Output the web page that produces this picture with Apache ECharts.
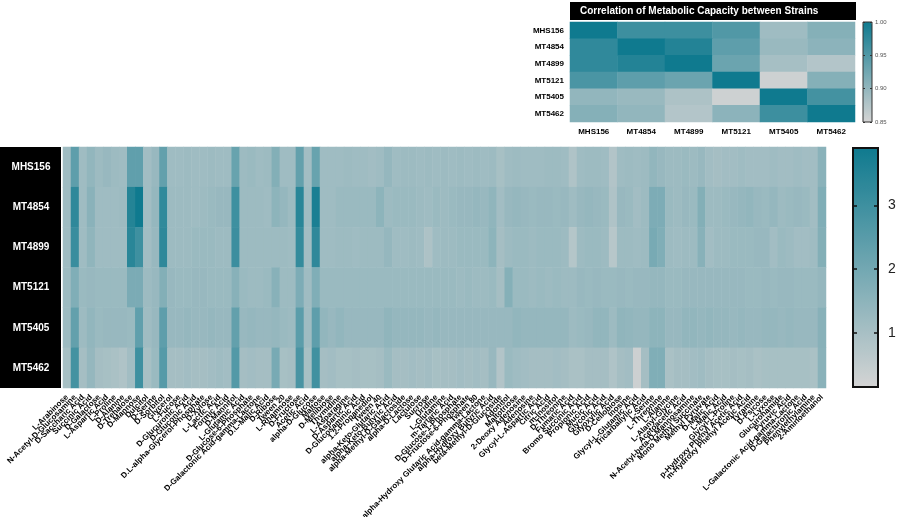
<!DOCTYPE html>
<html>
<head>
<meta charset="utf-8">
<script src="https://cdn.jsdelivr.net/npm/echarts@6/dist/echarts.min.js"></script>
<style>
  html, body { margin: 0; padding: 0; background: #fff; }
  #main { width: 900px; height: 517px; }
</style>
</head>
<body>
<div id="main"></div>
<script>
// ------------------------- 数据 -------------------------
const strains = ['MHS156', 'MT4854', 'MT4899', 'MT5121', 'MT5405', 'MT5462'];

const substrates = [
  'L-Arabinose', 'N-Acetyl-D-Glucosamine', 'D-Saccharic Acid', 'Succinic Acid', 'D-Galactose',
  'L-Aspartic Acid', 'L-Proline', 'D-Alanine', 'D-Trehalose', 'D-Mannose', 'Dulcitol', 'D-Serine',
  'D-Sorbitol', 'Glycerol', 'L-Fucose', 'D-Glucuronic Acid', 'D-Gluconic Acid',
  'D.L-alpha-Glycerol-Phosphate', 'D-Xylose', 'L-Lactic Acid', 'Formic Acid', 'D-Mannitol',
  'L-Glutamic Acid', 'D-Glucose-6-Phosphate', 'D-Galactonic Acid-gamma-Lactone', 'D.L-Malic Acid',
  'D-Ribose', 'Tween 20', 'L-Rhamnose', 'D-Fructose', 'Acetic Acid', 'alpha-D-Glucose', 'Maltose',
  'D-Melibiose', 'Thymidine', 'L-Asparagine', 'D-Aspartic Acid', 'D-Glucosaminic Acid',
  '1.2-Propanediol', 'Tween 40', 'alpha-Keto-Glutaric Acid', 'alpha-Keto-Butyric Acid',
  'alpha-Methyl-D-Galactoside', 'alpha-D-Lactose', 'Lactulose', 'Sucrose', 'Uridine', 'L-Glutamine',
  'm-Tartaric Acid', 'D-Glucose-1-Phosphate', 'D-Fructose-6-Phosphate', 'Tween 80',
  'alpha-Hydroxy Glutaric Acid-gamma-Lactone', 'alpha-Hydroxy Butyric Acid', 'beta-Methyl-D-Glucoside',
  'Adonitol', 'Maltotriose', '2-Deoxy Adenosine', 'Adenosine', 'Glycyl-L-Aspartic Acid', 'Citric Acid',
  'm-Inositol', 'D-Threonine', 'Fumaric Acid', 'Bromo Succinic Acid', 'Propionic Acid', 'Mucic Acid',
  'Glycolic Acid', 'Glyoxylic Acid', 'D-Cellobiose', 'Inosine', 'Glycyl-L-Glutamic Acid',
  'Tricarballylic Acid', 'L-Serine', 'L-Threonine', 'L-Alanine', 'L-Alanyl-Glycine', 'Acetoacetic Acid',
  'N-Acetyl-beta-D-Mannosamine', 'Mono Methyl Succinate', 'Methyl Pyruvate', 'D-Malic Acid',
  'L-Malic Acid', 'Glycyl-L-Proline', 'p-Hydroxy Phenyl Acetic Acid', 'm-Hydroxy Phenyl Acetic Acid',
  'Tyramine', 'D-Psicose', 'L-Lyxose', 'Glucuronamide', 'Pyruvic Acid',
  'L-Galactonic Acid-gamma-Lactone', 'D-Galacturonic Acid', 'Phenylethylamine', '2-Aminoethanol'
];

// 每个菌株对各底物的代谢能力（按底物顺序）
const mhs156 = [
  1.15, 2.4, 1.15, 1.4, 1.2, 1.3, 1.2, 1.15, 2.35, 2.35, 1.1, 1.3, 2.3, 1.15, 1.15, 1.2, 1.15, 1.15, 1.2, 1.15,
  1.15, 2.2, 1.2, 1.25, 1.15, 1.2, 1.7, 1.15, 1.15, 2.3, 1.1, 2.2, 1.15, 1.15, 1.15, 1.2, 1.15, 1.15, 1.1, 1.15,
  1.35, 1.15, 1.2, 1.2, 1.15, 1.2, 1.15, 1.2, 1.15, 1.2, 1.15, 1.2, 1.15, 1.2, 1.0, 1.15, 1.2, 1.15, 1.15, 1.15,
  1.2, 1.2, 1.15, 0.85, 1.15, 1.2, 1.2, 1.15, 0.8, 1.15, 1.2, 1.15, 1.2, 1.4, 1.3, 1.2, 1.2, 1.25, 1.2, 1.3,
  1.1, 1.05, 1.1, 1.1, 1.15, 1.1, 1.1, 1.1, 1.15, 1.1, 1.1, 1.15, 1.1, 1.1, 1.55
];
const mt4854 = [
  1.15, 3.3, 1.15, 1.55, 1.15, 1.15, 1.15, 1.2, 3.5, 3.9, 1.1, 1.35, 3.25, 1.2, 1.2, 1.2, 1.15, 1.2, 1.25, 1.3,
  1.3, 3.0, 1.2, 1.2, 1.2, 1.15, 1.5, 1.35, 1.2, 3.4, 1.15, 3.7, 1.15, 1.15, 1.25, 1.25, 1.25, 1.25, 1.25, 1.5,
  1.2, 1.25, 1.25, 1.25, 1.2, 1.15, 1.25, 1.2, 1.25, 1.3, 1.3, 1.35, 1.3, 1.45, 1.1, 1.3, 1.35, 1.3, 1.25, 1.3,
  1.3, 1.25, 1.3, 1.15, 1.3, 1.35, 1.3, 1.25, 0.85, 1.3, 1.25, 1.1, 1.2, 1.8, 1.8, 1.25, 1.2, 1.3, 1.25, 1.7,
  1.2, 1.2, 1.25, 1.3, 1.35, 1.4, 1.3, 1.25, 1.35, 1.2, 1.25, 1.3, 1.25, 1.1, 1.75
];
const mt4899 = [
  1.15, 3.1, 1.15, 1.45, 1.15, 1.15, 1.15, 1.15, 3.4, 3.0, 1.1, 1.3, 3.3, 1.2, 1.2, 1.2, 1.25, 1.25, 1.25, 1.2,
  1.2, 3.05, 1.2, 1.2, 1.2, 1.2, 1.2, 1.2, 1.15, 3.2, 1.1, 3.3, 1.15, 1.15, 1.2, 1.2, 1.15, 1.2, 1.2, 1.2,
  1.35, 1.15, 1.15, 1.2, 1.15, 0.9, 1.15, 1.2, 1.2, 1.25, 1.25, 1.25, 1.25, 1.5, 1.05, 1.2, 1.25, 1.25, 1.2, 1.25,
  1.25, 1.25, 1.2, 0.75, 1.2, 1.25, 1.25, 1.2, 0.7, 1.2, 1.2, 1.15, 1.2, 1.9, 1.75, 1.2, 1.15, 1.2, 1.2, 1.6,
  1.1, 1.2, 1.2, 1.25, 1.25, 1.25, 1.3, 1.3, 1.1, 1.25, 1.2, 1.1, 1.1, 1.15, 1.7
];
const mt5121 = [
  1.2, 1.75, 1.25, 1.3, 1.25, 1.25, 1.25, 1.25, 1.85, 1.85, 1.2, 1.3, 1.7, 1.3, 1.25, 1.25, 1.3, 1.3, 1.25, 1.25,
  1.25, 1.6, 1.25, 1.2, 1.2, 1.25, 1.6, 1.2, 1.2, 1.8, 1.15, 1.75, 1.25, 1.25, 1.25, 1.25, 1.25, 1.25, 1.25, 1.25,
  1.25, 1.25, 1.25, 1.25, 1.25, 1.25, 1.25, 1.25, 1.25, 1.2, 1.25, 1.2, 1.2, 1.25, 1.05, 1.65, 1.25, 1.25, 1.2, 1.25,
  1.2, 1.25, 1.2, 1.2, 1.3, 1.25, 1.3, 1.25, 1.25, 1.3, 1.25, 1.3, 1.3, 1.35, 1.35, 1.25, 1.25, 1.3, 1.3, 1.3,
  1.3, 1.3, 1.3, 1.3, 1.3, 1.25, 1.25, 1.3, 1.25, 1.3, 1.3, 1.25, 1.25, 1.25, 1.35
];
const mt5405 = [
  1.2, 2.3, 1.2, 1.4, 1.25, 1.3, 1.3, 1.3, 1.25, 2.35, 1.15, 1.3, 2.4, 1.3, 1.3, 1.35, 1.3, 1.3, 1.35, 1.3,
  1.3, 2.3, 1.3, 1.35, 1.3, 1.3, 1.35, 1.25, 1.2, 2.45, 1.15, 2.4, 1.4, 1.3, 1.4, 1.3, 1.3, 1.3, 1.3, 1.3,
  1.45, 1.35, 1.35, 1.35, 1.35, 1.3, 1.35, 1.3, 1.3, 1.3, 1.3, 1.3, 1.3, 1.3, 1.3, 1.3, 1.4, 1.35, 1.35, 1.35,
  1.35, 1.35, 1.35, 1.2, 1.25, 1.3, 1.4, 1.4, 1.2, 1.45, 1.4, 1.35, 1.35, 1.5, 1.5, 1.3, 1.3, 1.4, 1.4, 1.35,
  1.4, 1.35, 1.35, 1.3, 1.35, 1.3, 1.3, 1.35, 1.35, 1.3, 1.35, 1.3, 1.3, 1.3, 1.6
];
const mt5462 = [
  1.0, 2.9, 1.05, 1.35, 1.05, 1.0, 0.95, 0.85, 1.1, 3.0, 1.0, 1.25, 2.55, 1.05, 1.05, 1.1, 1.05, 1.05, 1.1, 1.15,
  1.1, 2.6, 1.05, 1.1, 1.05, 1.05, 1.9, 1.0, 1.05, 2.8, 1.0, 2.95, 1.05, 1.1, 1.0, 1.0, 1.05, 1.0, 1.0, 1.05,
  1.25, 1.05, 1.05, 1.1, 1.05, 1.1, 1.0, 1.05, 1.05, 1.1, 1.05, 1.1, 1.05, 1.3, 0.8, 1.25, 1.15, 1.1, 1.05, 1.05,
  1.05, 1.1, 1.05, 0.95, 0.95, 1.05, 1.05, 1.05, 0.85, 1.05, 1.1, 0.3, 1.05, 1.75, 1.75, 0.95, 1.05, 1.05, 1.1, 1.15,
  1.05, 1.0, 1.0, 1.05, 1.0, 1.05, 0.95, 1.0, 1.0, 1.0, 1.0, 1.0, 1.0, 0.95, 1.55
];
const capacity = [mhs156, mt4854, mt4899, mt5121, mt5405, mt5462];

// 菌株间相关系数（行 = 菌株，列 = 菌株）
const corMHS156 = [1.00, 0.965, 0.965, 0.95, 0.89, 0.91];
const corMT4854 = [0.975, 1.00, 0.985, 0.94, 0.895, 0.905];
const corMT4899 = [0.975, 0.985, 1.00, 0.93, 0.885, 0.875];
const corMT5121 = [0.955, 0.94, 0.93, 1.00, 0.855, 0.91];
const corMT5405 = [0.90, 0.895, 0.88, 0.855, 1.00, 0.96];
const corMT5462 = [0.91, 0.90, 0.875, 0.905, 0.965, 1.00];
const correlation = [corMHS156, corMT4854, corMT4899, corMT5121, corMT5405, corMT5462];

// 色标刻度
const mainTicks = [1, 2, 3];
const mainRange = [0.15, 3.9];
const corRange = [0.85, 1.0];

// ------------------------- 数据处理 -------------------------
const toCells = (matrix) => {
  const cells = [];
  matrix.forEach((row, r) => row.forEach((v, c) => cells.push([c, r, v])));
  return cells;
};

const FONT = '"Liberation Sans", Arial, sans-serif';
const lowColor = '#d4d4d4';
const highColor = '#0f7a8f';

// 色标两侧的内刻度（onZero 关掉，否则两根轴都会贴到左边）
const barTicks = (position, ticks, len, color, width, extra) => Object.assign({
  type: 'value', position, z: 20,
  splitLine: { show: false }, axisLine: { show: false, onZero: false },
  axisTick: { show: true, inside: true, length: len, customValues: ticks, lineStyle: { color, width } },
  axisLabel: { show: false }
}, extra);

const chart = echarts.init(document.getElementById('main'), null, { renderer: 'canvas' });

chart.setOption({
  animation: false,
  backgroundColor: '#fff',
  title: {
    text: 'Correlation of Metabolic Capacity between Strains',
    left: 580, top: 6, padding: 0,
    textStyle: { color: '#fff', fontSize: 10, fontWeight: 'bold', fontFamily: FONT }
  },
  graphic: [
    // 行名黑色底板
    { type: 'rect', left: 0, top: 147, shape: { width: 61, height: 241 }, style: { fill: '#000' }, z: 0 },
    // 小图标题黑色底板
    { type: 'rect', left: 570, top: 2, shape: { width: 286, height: 18 }, style: { fill: '#000' }, z: 0 }
  ],
  grid: [
    { left: 63, top: 147, width: 763, height: 241, outerBoundsMode: 'none' },
    { left: 570, top: 22, width: 285, height: 100, outerBoundsMode: 'none' },
    { left: 853, top: 148, width: 25, height: 239, outerBoundsMode: 'none', show: true, borderColor: '#111', borderWidth: 2, backgroundColor: 'transparent', z: 10 },
    { left: 863, top: 22, width: 9, height: 100, outerBoundsMode: 'none', show: true, borderColor: '#333', borderWidth: 1, backgroundColor: 'transparent', z: 10 }
  ],
  xAxis: [
    {
      gridIndex: 0, type: 'category', data: substrates,
      axisLine: { show: false }, axisTick: { show: false }, splitArea: { show: false },
      axisLabel: { interval: 0, rotate: 45, fontSize: 8, fontWeight: 'bold', color: '#000', fontFamily: FONT, margin: 8 }
    },
    {
      gridIndex: 1, type: 'category', data: strains,
      axisLine: { show: false }, axisTick: { show: false },
      axisLabel: { fontSize: 8, fontWeight: 'bold', color: '#000', fontFamily: FONT, margin: 6 }
    },
    { gridIndex: 2, type: 'value', show: false },
    { gridIndex: 3, type: 'value', show: false }
  ],
  yAxis: [
    {
      gridIndex: 0, type: 'category', data: strains, inverse: true, z: 10,
      axisLine: { show: false }, axisTick: { show: false },
      axisLabel: { fontSize: 10, fontWeight: 'bold', color: '#fff', fontFamily: FONT, align: 'center', margin: 32 }
    },
    {
      gridIndex: 1, type: 'category', data: strains, inverse: true,
      axisLine: { show: false }, axisTick: { show: false },
      axisLabel: { fontSize: 8, fontWeight: 'bold', color: '#000', fontFamily: FONT, margin: 6 }
    },
    // 主色标：右侧刻度 + 标签
    barTicks('right', mainTicks, 4, '#111', 1.5, {
      gridIndex: 2, min: mainRange[0], max: mainRange[1],
      axisLabel: { show: true, customValues: mainTicks, fontSize: 14, color: '#222', fontFamily: FONT, margin: 10 }
    }),
    barTicks('left', mainTicks, 4, '#111', 1.5, { gridIndex: 2, min: mainRange[0], max: mainRange[1] }),
    // 相关系数色标
    barTicks('right', null, 2, '#333', 1, {
      gridIndex: 3, min: corRange[0], max: corRange[1], interval: 0.05,
      axisLabel: { show: true, fontSize: 6, color: '#555', fontFamily: FONT, margin: 3, formatter: v => v.toFixed(2) }
    }),
    barTicks('left', null, 2, '#333', 1, { gridIndex: 3, min: corRange[0], max: corRange[1], interval: 0.05 })
  ],
  visualMap: [
    {
      type: 'continuous', seriesIndex: 0, min: mainRange[0], max: mainRange[1], z: 1,
      calculable: false, orient: 'vertical', left: 853, top: 148, padding: 0,
      itemWidth: 25, itemHeight: 239, text: null, showLabel: false,
      inRange: { color: [lowColor, highColor] }
    },
    {
      type: 'continuous', seriesIndex: 1, min: corRange[0], max: corRange[1], z: 1,
      calculable: false, orient: 'vertical', left: 863, top: 22, padding: 0,
      itemWidth: 9, itemHeight: 100, text: null, showLabel: false,
      inRange: { color: [lowColor, highColor] }
    }
  ],
  series: [
    {
      type: 'heatmap', xAxisIndex: 0, yAxisIndex: 0, data: toCells(capacity),
      progressive: 0, emphasis: { disabled: true }, itemStyle: { borderWidth: 0 }
    },
    {
      type: 'heatmap', xAxisIndex: 1, yAxisIndex: 1, data: toCells(correlation),
      progressive: 0, emphasis: { disabled: true }, itemStyle: { borderWidth: 0 }
    }
  ]
});
</script>
</body>
</html>
